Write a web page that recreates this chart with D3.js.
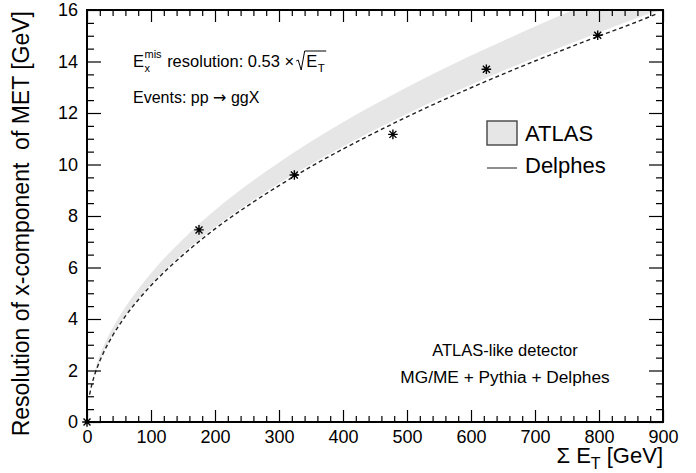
<!DOCTYPE html>
<html>
<head>
<meta charset="utf-8">
<script src="https://cdn.jsdelivr.net/npm/d3@7"></script>
<style>
  html, body { margin: 0; padding: 0; background: #fff; }
  svg { display: block; }
  text { font-family: "Liberation Sans", Arial, Helvetica, sans-serif; fill: #000; }
</style>
</head>
<body>
<svg id="chart" width="696" height="473"></svg>
<script>
// ---------------- data ----------------
// ATLAS band
const bandX     = [10, 20, 40, 60, 80, 100, 150, 200, 250, 300, 350, 400, 450, 500, 550, 600, 650, 700, 750, 800, 850, 900];
const bandUpper = [1.82, 2.58, 3.65, 4.47, 5.16, 5.78, 7.10, 8.22, 9.20, 10.08, 10.89, 11.64, 12.34, 13.00, 13.63, 14.23, 14.80, 15.36, 15.90, 16.42, 16.92, 17.4];
const bandLower = [1.69, 2.39, 3.38, 4.14, 4.79, 5.35, 6.55, 7.57, 8.46, 9.27, 10.01, 10.70, 11.35, 11.96, 12.55, 13.10, 13.64, 14.15, 14.65, 15.13, 15.60, 16.05];
// Delphes fitted curve (dashed)
const delphesX = [4, 8, 15, 25, 40, 60, 80, 100, 130, 160, 200, 250, 300, 350, 400, 450, 500, 550, 600, 650, 700, 750, 800, 850, 890];
const delphesY = [1.06, 1.50, 2.05, 2.65, 3.35, 4.11, 4.74, 5.30, 6.04, 6.70, 7.50, 8.38, 9.18, 9.92, 10.60, 11.24, 11.85, 12.43, 12.98, 13.51, 14.02, 14.51, 14.99, 15.45, 15.85];
// Delphes points (asterisk markers)
const pointX = [0, 175, 324, 478, 624, 798];
const pointY = [0, 7.46, 9.59, 11.17, 13.70, 15.02];
// axis ticks
const xMajor = [0, 100, 200, 300, 400, 500, 600, 700, 800, 900];
const yMajor = [0, 2, 4, 6, 8, 10, 12, 14, 16];
const xMinorStep = 20;
const yMinorStep = 0.5;

// ---------------- layout ----------------
const svg = d3.select("#chart");
const L = 87, R = 663, T = 10, B = 422;
const x = d3.scaleLinear().domain([0, 900]).range([L, R]);
const y = d3.scaleLinear().domain([0, 16]).range([B, T]);

const FONT = '"Liberation Sans", Arial, Helvetica, sans-serif';

svg.append("defs").append("clipPath").attr("id", "frameClip")
  .append("rect").attr("x", L).attr("y", T).attr("width", R - L).attr("height", B - T);

const plot = svg.append("g").attr("clip-path", "url(#frameClip)");

// band
const bandData = bandX.map((d, i) => ({x: d, lo: bandLower[i], hi: bandUpper[i]}));
plot.append("path")
  .datum(bandData)
  .attr("d", d3.area().x(d => x(d.x)).y0(d => y(d.lo)).y1(d => y(d.hi)).curve(d3.curveMonotoneX))
  .attr("fill", "#e6e6e6")
  .attr("stroke", "none");

// dashed Delphes curve
const delData = delphesX.map((d, i) => ({x: d, y: delphesY[i]}));
plot.append("path")
  .datum(delData)
  .attr("d", d3.line().x(d => x(d.x)).y(d => y(d.y)).curve(d3.curveMonotoneX))
  .attr("fill", "none")
  .attr("stroke", "#222")
  .attr("stroke-width", 1.4)
  .attr("stroke-dasharray", "4,3");

// markers
const r = 4.8, rd = 3.5;
const starPath = `M${-r},0H${r}M0,${-r}V${r}M${-rd},${-rd}L${rd},${rd}M${-rd},${rd}L${rd},${-rd}`;
svg.append("g").selectAll("path")
  .data(pointX.map((d, i) => ({x: d, y: pointY[i]})))
  .join("path")
  .attr("transform", d => `translate(${x(d.x)},${y(d.y)})`)
  .attr("d", starPath)
  .attr("stroke", "#000")
  .attr("stroke-width", 1.4)
  .attr("fill", "none");

// ---------------- axes ----------------
const xMinor = d3.range(0, 900.001, xMinorStep).filter(v => v % 100 !== 0);
const yMinor = d3.range(0, 16.001, yMinorStep).filter(v => Math.abs(v / 2 - Math.round(v / 2)) > 1e-6);

function styleAxis(g) {
  g.select(".domain").remove();
  g.selectAll("line").attr("stroke", "#000").attr("stroke-width", 1.2);
  g.selectAll("text").attr("font-family", FONT).attr("font-size", 18).attr("fill", "#000");
}

// bottom
svg.append("g").attr("transform", `translate(0,${B})`)
  .call(d3.axisBottom(x).tickValues(xMajor).tickSize(-12).tickPadding(8).tickFormat(d3.format("d")))
  .call(styleAxis);
svg.append("g").attr("transform", `translate(0,${B})`)
  .call(d3.axisBottom(x).tickValues(xMinor).tickSize(-6).tickFormat(""))
  .call(styleAxis);
// top
svg.append("g").attr("transform", `translate(0,${T})`)
  .call(d3.axisTop(x).tickValues(xMajor).tickSize(-12).tickFormat(""))
  .call(styleAxis);
svg.append("g").attr("transform", `translate(0,${T})`)
  .call(d3.axisTop(x).tickValues(xMinor).tickSize(-6).tickFormat(""))
  .call(styleAxis);
// left
svg.append("g").attr("transform", `translate(${L},0)`)
  .call(d3.axisLeft(y).tickValues(yMajor).tickSize(-14).tickPadding(9).tickFormat(d3.format("d")))
  .call(styleAxis);
svg.append("g").attr("transform", `translate(${L},0)`)
  .call(d3.axisLeft(y).tickValues(yMinor).tickSize(-7).tickFormat(""))
  .call(styleAxis);
// right
svg.append("g").attr("transform", `translate(${R},0)`)
  .call(d3.axisRight(y).tickValues(yMajor).tickSize(-14).tickFormat(""))
  .call(styleAxis);
svg.append("g").attr("transform", `translate(${R},0)`)
  .call(d3.axisRight(y).tickValues(yMinor).tickSize(-7).tickFormat(""))
  .call(styleAxis);

// frame
svg.append("rect")
  .attr("x", L).attr("y", T).attr("width", R - L).attr("height", B - T)
  .attr("fill", "none").attr("stroke", "#000").attr("stroke-width", 2);

// ---------------- titles ----------------
svg.append("text")
  .attr("transform", `translate(29,${T + 1}) rotate(-90)`)
  .attr("text-anchor", "end")
  .attr("font-size", 23)
  .text("Resolution of x-component\u00a0 of MET [GeV]");

const xt = svg.append("text")
  .attr("x", R).attr("y", 463)
  .attr("text-anchor", "end")
  .attr("font-size", 22);
xt.append("tspan").text("\u03a3 E");
xt.append("tspan").attr("font-size", 16).attr("dy", 6).text("T");
xt.append("tspan").attr("dy", -6).text(" [GeV]");

// ---------------- annotations ----------------
// E_x^mis resolution: 0.53 x sqrt(E_T)
const ax = 133, ay = 67;
const tE = svg.append("text").attr("x", ax).attr("y", ay).attr("font-size", 16.5).text("E");
const wE = tE.node().getComputedTextLength();
const tSup = svg.append("text").attr("x", ax + wE + 0.5).attr("y", ay - 9).attr("font-size", 11).text("mis");
svg.append("text").attr("x", ax + wE + 0.5).attr("y", ay + 5).attr("font-size", 11).text("x");
const wSup = tSup.node().getComputedTextLength();
const t2x = ax + wE + wSup + 6;
const t2 = svg.append("text").attr("x", t2x).attr("y", ay).attr("font-size", 16.5).text("resolution: 0.53 \u00d7");
const w2 = t2.node().getComputedTextLength();
const sx = t2x + w2 + 2;
const tE2x = sx + 10;
const tE2 = svg.append("text").attr("x", tE2x).attr("y", ay).attr("font-size", 16.5).text("E");
const wE2 = tE2.node().getComputedTextLength();
const tT = svg.append("text").attr("x", tE2x + wE2 + 0.5).attr("y", ay + 5).attr("font-size", 11.5).text("T");
const wT = tT.node().getComputedTextLength();
const sEnd = tE2x + wE2 + wT + 2;
svg.append("path")
  .attr("d", `M${sx},${ay - 6}L${sx + 2},${ay - 7}L${sx + 5},${ay + 3}L${sx + 8.5},${ay - 16}H${sEnd}`)
  .attr("fill", "none").attr("stroke", "#000").attr("stroke-width", 1);

const ev = svg.append("text").attr("x", 133).attr("y", 103).attr("font-size", 16);
ev.append("tspan").text("Events: pp ");
ev.append("tspan").attr("font-family", '"DejaVu Sans", sans-serif').attr("font-size", 16).text("\u2192");
ev.append("tspan").text(" ggX");

svg.append("text").attr("x", 505).attr("y", 356).attr("text-anchor", "middle").attr("font-size", 16.5).text("ATLAS-like detector");
svg.append("text").attr("x", 505).attr("y", 383).attr("text-anchor", "middle").attr("font-size", 17.3).text("MG/ME + Pythia + Delphes");

// ---------------- legend ----------------
svg.append("rect").attr("x", 487).attr("y", 121).attr("width", 30).attr("height", 24)
  .attr("fill", "#e6e6e6").attr("stroke", "#444").attr("stroke-width", 1.4);
svg.append("text").attr("x", 525).attr("y", 141).attr("font-size", 22).text("ATLAS");
svg.append("line").attr("x1", 487).attr("x2", 517).attr("y1", 168).attr("y2", 168)
  .attr("stroke", "#444").attr("stroke-width", 1.2);
svg.append("text").attr("x", 525).attr("y", 173).attr("font-size", 22).text("Delphes");
</script>
</body>
</html>
